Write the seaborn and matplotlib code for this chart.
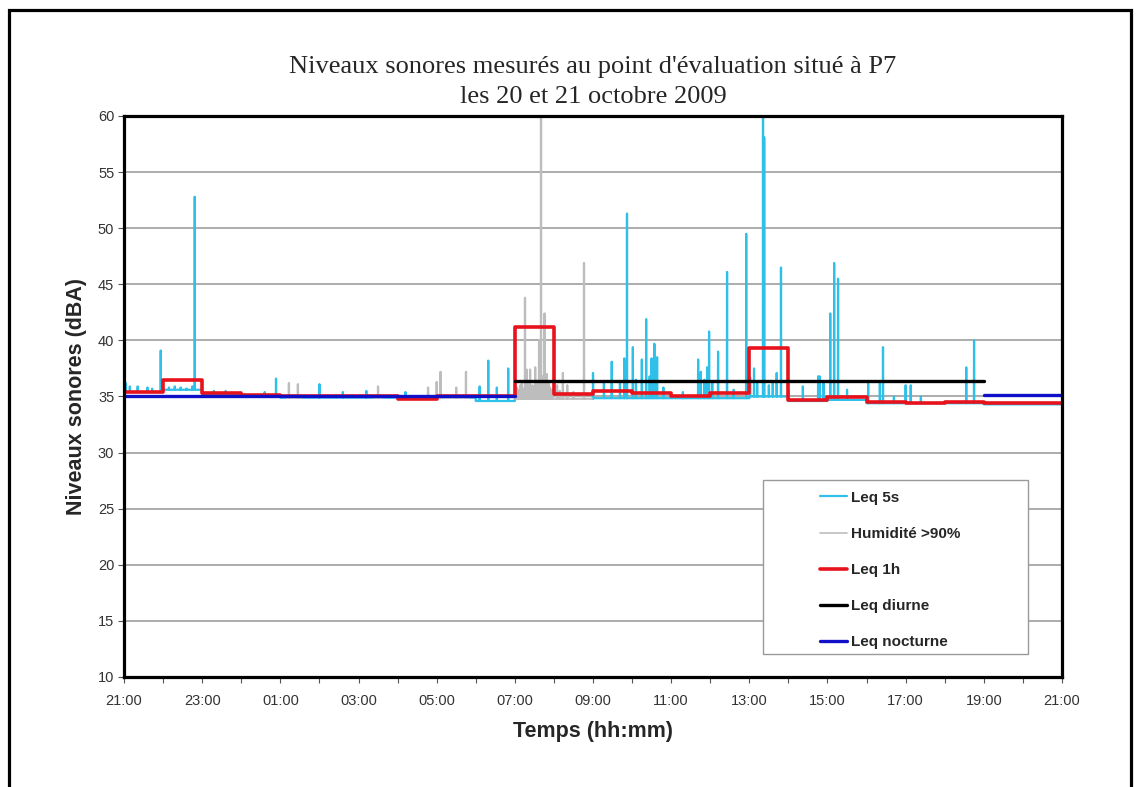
import numpy as np
import pandas as pd
import matplotlib
matplotlib.use("Agg")
import matplotlib.pyplot as plt
from matplotlib.patches import Rectangle
from matplotlib.lines import Line2D
import seaborn as sns

# ---------------- data (time = hours elapsed since 21:00 on 20 Oct) ----------------
tick_labels = ["21:00", "23:00", "01:00", "03:00", "05:00", "07:00", "09:00",
               "11:00", "13:00", "15:00", "17:00", "19:00", "21:00"]

# Leq 1h (hourly values, starting 21:00)
leq1h_start = list(range(24))
leq1h_value = [35.4, 36.45, 35.3, 35.1, 35.0, 35.0, 35.0, 34.8, 35.0, 35.0,
               41.2, 35.2, 35.5, 35.3, 35.05, 35.3, 39.35, 34.7, 34.95, 34.5,
               34.45, 34.55, 34.4, 34.45]

# Leq diurne (07:00 -> 19:00) and Leq nocturne (21:00 -> 07:00, 19:00 -> 21:00)
diurne_t = [10, 22]
diurne_v = [36.4, 36.4]
nocturne_t = [0, 10, 22, 24]
nocturne_v = [35.0, 35.0, 35.1, 35.1]
nocturne_seg = [0, 0, 1, 1]

# Leq 5s : background level (piecewise) and individual peaks
base_t = [0, 1, 2, 3, 4, 8, 9, 10, 12, 16, 17, 18, 19, 22]
base_v = [35.4, 35.6, 35.2, 35.0, 34.9, 34.9, 34.6, 34.8, 34.85, 35.0, 34.6, 34.7, 34.4, 34.3]

spike_t = [0.05, 0.15, 0.35, 0.6, 0.72, 0.94, 1.15, 1.3, 1.45, 1.6, 1.75, 1.81,
           2.3, 2.6, 3.6, 3.89, 4.22, 4.45, 5.0, 5.6, 6.2, 6.5, 7.2, 7.78, 8.0,
           8.1, 8.5, 8.75, 9.1, 9.32, 9.54, 9.83,
           10.05, 10.1, 10.14, 10.18, 10.22, 10.26, 10.3, 10.34, 10.39, 10.45,
           10.52, 10.57, 10.62, 10.67, 10.71, 10.76, 10.82, 10.86, 10.9, 10.96,
           11.08, 11.15, 11.23, 11.34, 11.5, 11.77,
           12.0, 12.28, 12.48, 12.69, 12.8, 12.87, 13.02, 13.1, 13.25, 13.36,
           13.45, 13.5, 13.57, 13.64, 13.8, 14.3, 14.69, 14.76, 14.85, 14.92,
           14.97, 15.05, 15.2, 15.43, 15.6, 15.92, 16.02, 16.12, 16.2, 16.35,
           16.38, 16.5, 16.6, 16.7, 16.81, 17.0, 17.37, 17.76, 17.8, 17.9,
           18.07, 18.17, 18.27, 18.5, 19.04, 19.34, 19.42, 19.7, 20.0, 20.13,
           20.39, 21.55, 21.75]
spike_v = [36.2, 35.9, 35.9, 35.8, 35.7, 39.1, 35.8, 35.9, 35.8, 35.7, 35.9, 52.8,
           35.5, 35.5, 35.4, 36.6, 36.2, 36.1, 36.1, 35.4, 35.5, 35.9, 35.4, 35.8, 36.3,
           37.2, 35.8, 37.2, 35.9, 38.2, 35.8, 37.5,
           35.8, 35.6, 36.0, 36.3, 35.7, 43.8, 37.4, 36.2, 37.4, 36.0,
           37.6, 36.4, 40.0, 60.0, 36.8, 42.4, 37.0, 36.2, 35.8, 35.6,
           36.0, 35.5, 37.1, 36.0, 35.4, 46.9,
           37.1, 36.2, 38.1, 36.2, 38.4, 51.3, 39.4, 36.5, 38.3, 41.9,
           36.8, 38.4, 39.7, 38.5, 35.8, 35.4, 38.3, 37.2, 36.5, 37.6,
           40.8, 36.2, 39.0, 46.1, 35.6, 49.5, 36.7, 37.5, 36.3, 60.0,
           58.1, 36.0, 36.3, 37.1, 46.5, 35.5, 35.9, 36.8, 36.8, 36.2,
           42.4, 46.9, 45.5, 35.6, 36.2, 36.2, 39.4, 35.0, 36.0, 36.0,
           35.0, 37.6, 40.0]

# periods with humidity > 90 %
hum_start = [4.15, 6.4, 7.7, 10.0]
hum_end = [4.55, 6.6, 8.85, 11.97]

# ---------------- build the 5 s series ----------------
base_t_a = np.array(base_t, float)
base_v_a = np.array(base_v, float)


def base_at(t):
    idx = np.searchsorted(base_t_a, t, side="right") - 1
    return base_v_a[np.clip(idx, 0, None)]


half = 0.004
tt = {0.0, 24.0}
for b in base_t[1:]:
    tt.update([b - 1e-4, b])
for s, e in zip(hum_start, hum_end):
    tt.update([s, e])
for t in spike_t:
    tt.update([t - half, t + half])
tt = np.array(sorted(tt))
all_t = np.concatenate([tt, np.array(spike_t, float)])
all_v = np.concatenate([base_at(tt), np.array(spike_v, float)])
order = np.argsort(all_t, kind="stable")
all_t, all_v = all_t[order], all_v[order]

inside_strict = np.zeros(len(all_t), bool)
inside_incl = np.zeros(len(all_t), bool)
for s, e in zip(hum_start, hum_end):
    inside_strict |= (all_t > s) & (all_t < e)
    inside_incl |= (all_t >= s) & (all_t <= e)


def segments(mask):
    return np.cumsum(np.r_[1, np.diff(mask.astype(int)) != 0])


cyan_mask = ~inside_strict
df_cyan = pd.DataFrame({"t": all_t, "v": all_v, "seg": segments(cyan_mask)})[cyan_mask]
df_grey = pd.DataFrame({"t": all_t, "v": all_v, "seg": segments(inside_incl)})[inside_incl]

df_1h = pd.DataFrame({"t": leq1h_start + [24], "v": leq1h_value + [leq1h_value[-1]]})
df_noc = pd.DataFrame({"t": nocturne_t, "v": nocturne_v, "seg": nocturne_seg})
df_diu = pd.DataFrame({"t": diurne_t, "v": diurne_v})

# ---------------- styling ----------------
sns.set_style("white")
plt.rcParams["font.family"] = ["Liberation Sans", "DejaVu Sans"]

C_CYAN = "#2EC0E8"
C_GREY = "#BDBDBD"
C_RED = "#E8121C"
C_BLACK = "#000000"
C_BLUE = "#1010C8"

fig = plt.figure(figsize=(11.38, 7.87), dpi=100)
ax = fig.add_axes([124 / 1138, 1 - 677 / 787, 938 / 1138, 561 / 787])

sns.lineplot(data=df_cyan, x="t", y="v", units="seg", estimator=None, sort=False,
             color=C_CYAN, lw=1.6, ax=ax, zorder=3)
sns.lineplot(data=df_grey, x="t", y="v", units="seg", estimator=None, sort=False,
             color=C_GREY, lw=1.6, ax=ax, zorder=3)
sns.lineplot(data=df_1h, x="t", y="v", estimator=None, sort=False, drawstyle="steps-post",
             color=C_RED, lw=2.6, ax=ax, zorder=4)
sns.lineplot(data=df_diu, x="t", y="v", estimator=None, sort=False,
             color=C_BLACK, lw=2.4, ax=ax, zorder=5)
sns.lineplot(data=df_noc, x="t", y="v", units="seg", estimator=None, sort=False,
             color=C_BLUE, lw=2.4, ax=ax, zorder=5)

ax.set_xlim(0, 24)
ax.set_ylim(10, 60)
ax.set_yticks(np.arange(10, 61, 5))
ax.set_xticks(np.arange(0, 25, 2))
ax.set_xticks(np.arange(0, 25, 1), minor=True)
ax.set_xticklabels(tick_labels)
ax.yaxis.grid(True, color="#A6A6A6", lw=1.3)
ax.xaxis.grid(False)
ax.set_axisbelow(True)
for sp in ax.spines.values():
    sp.set_visible(True)
    sp.set_color("black")
    sp.set_linewidth(2.3)
    sp.set_zorder(6)

ax.tick_params(axis="x", which="both", direction="out", length=4.5, width=0.8,
               color="#555555", bottom=True, pad=8)
ax.tick_params(axis="x", which="major", labelsize=10.5, labelcolor="#333333")
ax.tick_params(axis="y", which="major", direction="out", length=4, width=0.8,
               color="#555555", left=True, pad=3, labelsize=10.5, labelcolor="#333333")

ax.set_xlabel("Temps (hh:mm)", fontsize=15.5, fontweight="bold")
ax.set_ylabel("Niveaux sonores (dBA)", fontsize=15.5, fontweight="bold")
ax.xaxis.set_label_coords(0.5, -0.078)
ax.yaxis.set_label_coords(-0.039, 0.5)

# title
fig.text(593 / 1138, 1 - 67 / 787, "Niveaux sonores mesurés au point d'évaluation situé à P7",
         ha="center", va="center", fontsize=19, family="Liberation Serif")
fig.text(593 / 1138, 1 - 97 / 787, "les 20 et 21 octobre 2009",
         ha="center", va="center", fontsize=19, family="Liberation Serif")

# legend box
ax.add_patch(Rectangle((0.681, 0.041), 0.283, 0.310, transform=ax.transAxes,
                       facecolor="white", edgecolor="#9A9A9A", lw=1.0, zorder=7))
handles = [Line2D([], [], color=C_CYAN, lw=1.6),
           Line2D([], [], color=C_GREY, lw=1.2),
           Line2D([], [], color=C_RED, lw=2.6),
           Line2D([], [], color=C_BLACK, lw=2.4),
           Line2D([], [], color=C_BLUE, lw=2.4)]
labels = ["Leq 5s", "Humidité >90%", "Leq 1h", "Leq diurne", "Leq nocturne"]
leg = ax.legend(handles, labels, loc="upper left", bbox_to_anchor=(0.742, 0.332),
                frameon=False, borderpad=0, borderaxespad=0, handlelength=1.8,
                handletextpad=0.25, labelspacing=1.45,
                prop={"weight": "bold", "size": 11})
leg.set_zorder(8)

# outer frame of the figure
fig.add_artist(Rectangle((9 / 1138, -0.05), (1131 - 9) / 1138, 1 - 10 / 787 + 0.05,
                         transform=fig.transFigure, fill=False, edgecolor="black", lw=2.3))

fig.savefig("out.png", dpi=100)
